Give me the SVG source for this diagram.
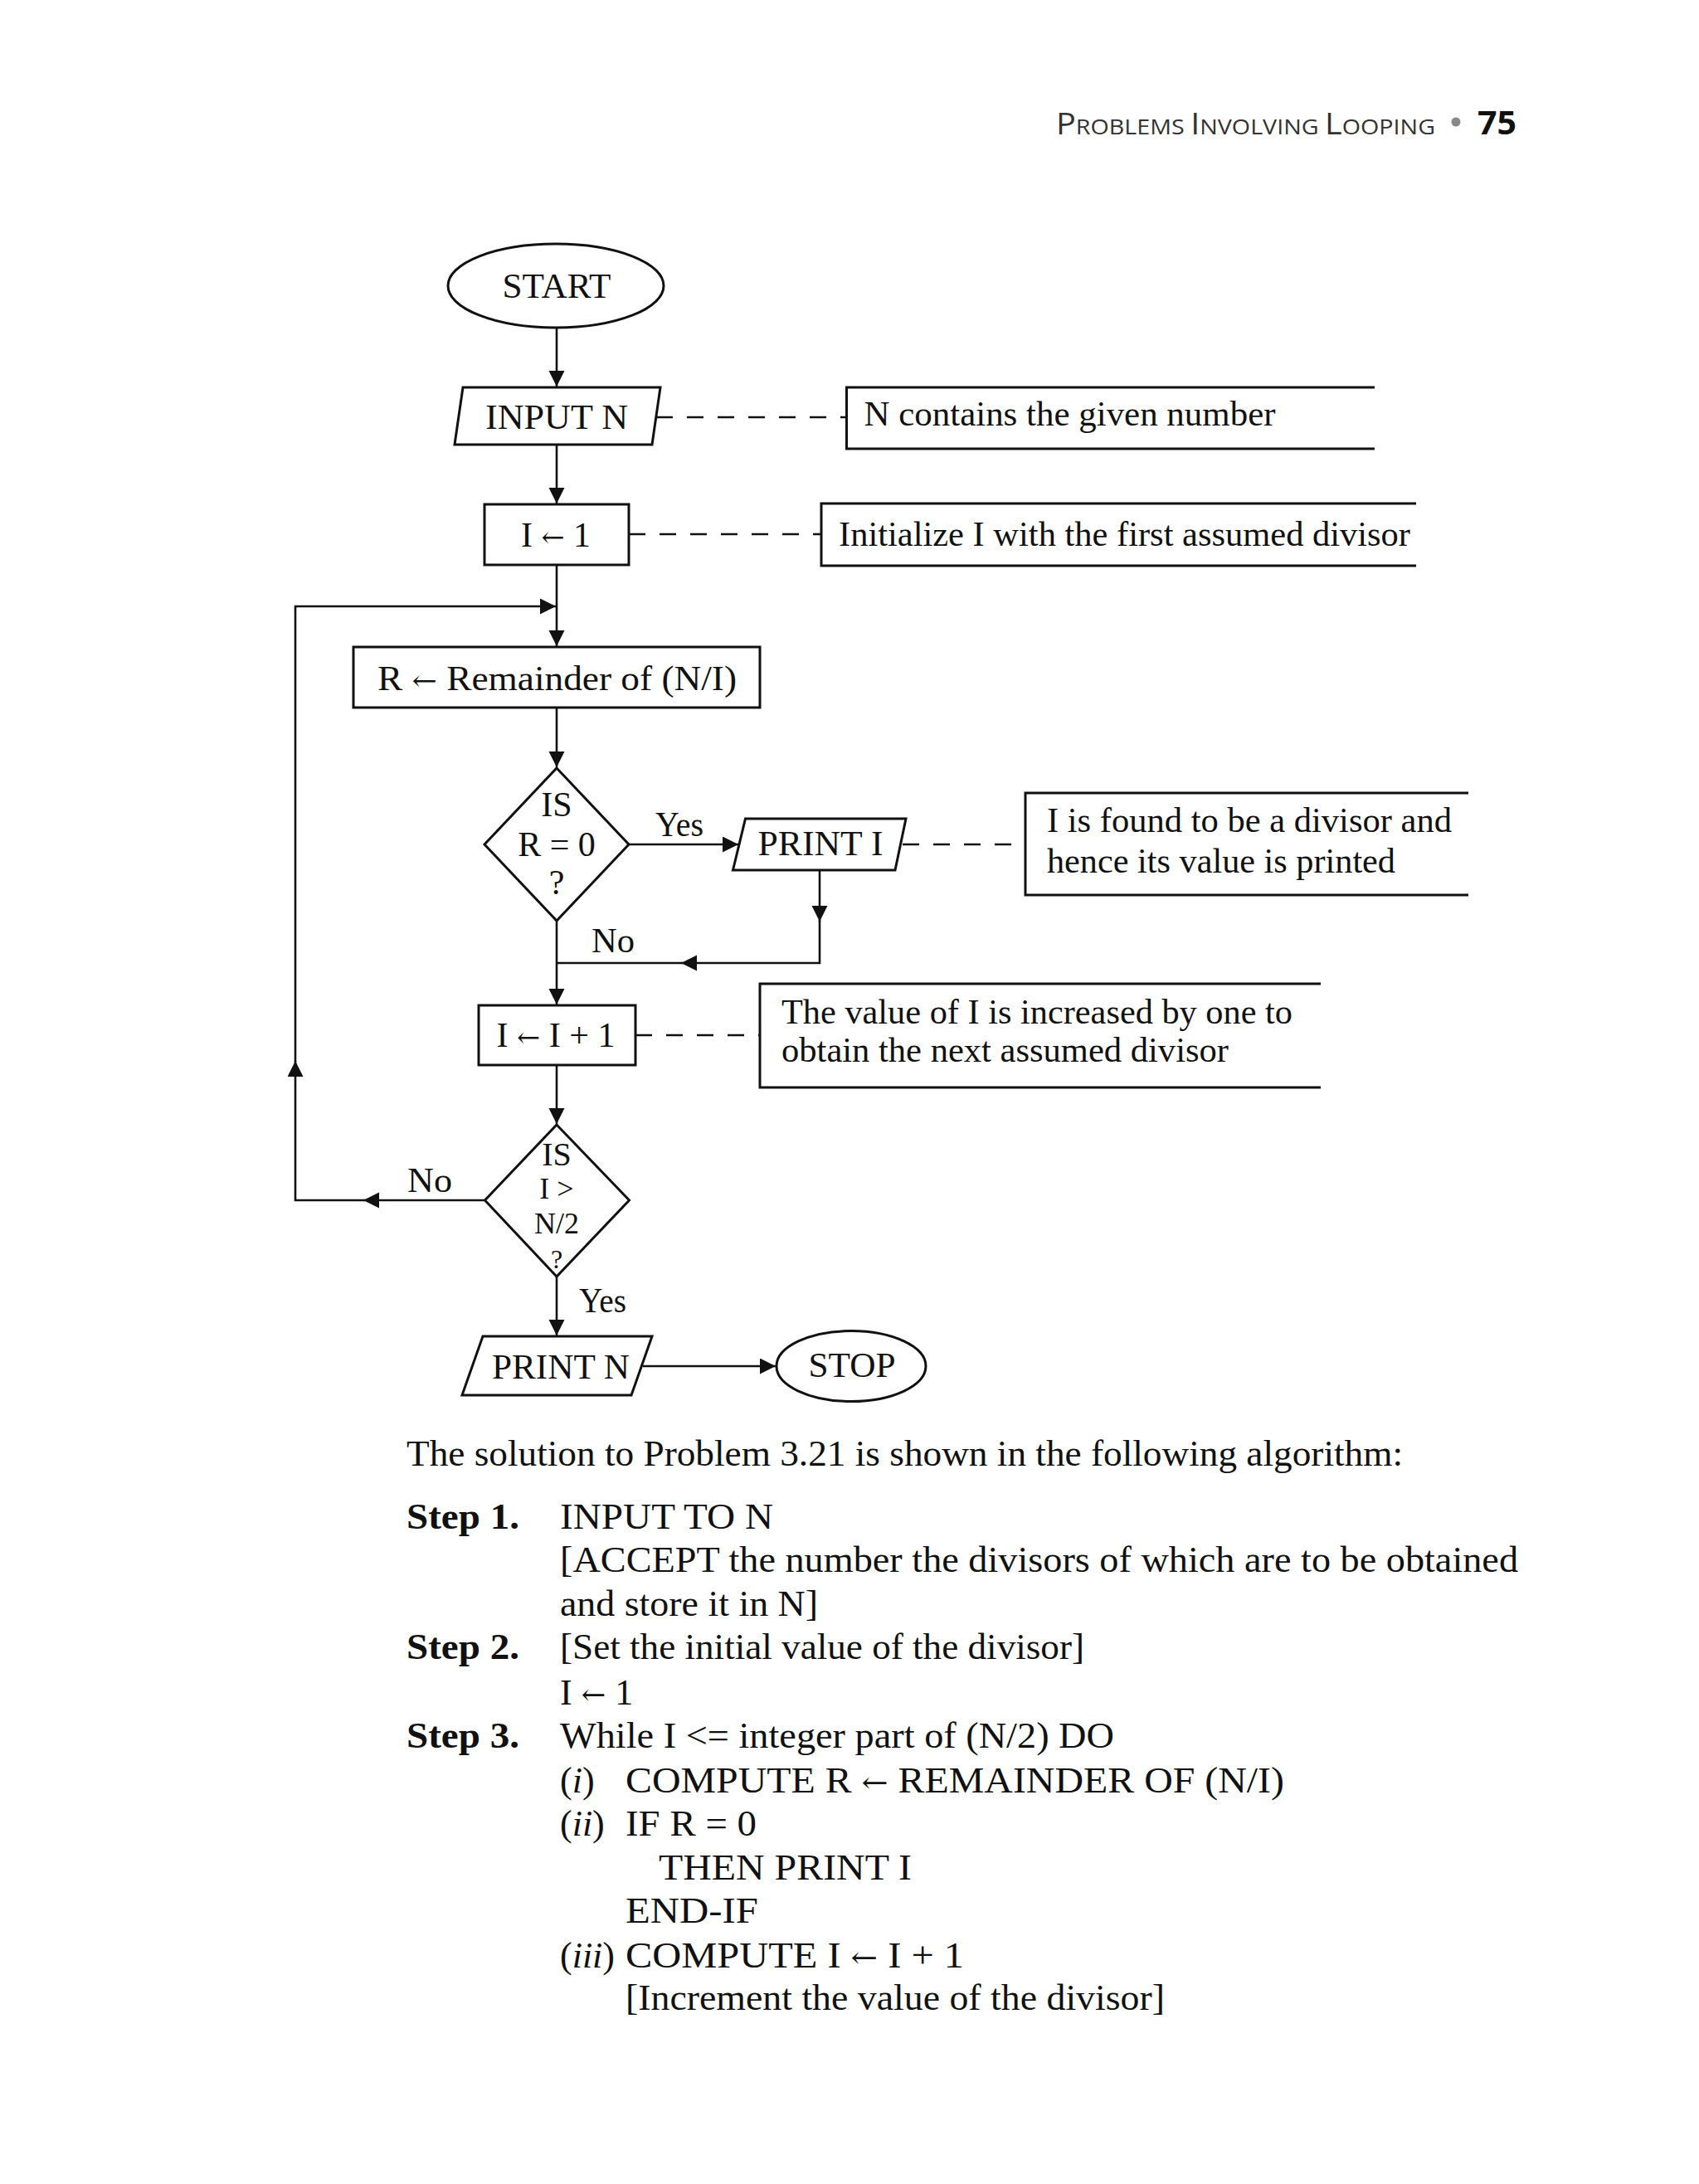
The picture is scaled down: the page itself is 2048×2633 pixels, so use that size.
<svg xmlns="http://www.w3.org/2000/svg" width="2048" height="2633" viewBox="0 0 2048 2633">
<style>
.shape{fill:#fff;stroke:#111;stroke-width:3}
.ln{fill:none;stroke:#111;stroke-width:2.6}
.dash{fill:none;stroke:#111;stroke-width:2.6;stroke-dasharray:20 17}
.note{fill:none;stroke:#111;stroke-width:3}
.t{font-family:"Liberation Serif","DejaVu Serif",serif;font-size:42px;fill:#111}
.tm{font-family:"Liberation Serif","DejaVu Serif",serif;font-size:42px;fill:#111;text-anchor:middle}
.b{font-family:"Liberation Serif","DejaVu Serif",serif;font-size:44px;fill:#111}
.bb{font-family:"Liberation Serif","DejaVu Serif",serif;font-size:44px;font-weight:bold;fill:#111}
.hd{font-family:"Open Sans","Liberation Sans",sans-serif;fill:#333}
.ar{font-family:"DejaVu Serif",serif;font-size:0.8em;font-weight:normal}
</style>
<defs>
<marker id="ah" markerUnits="userSpaceOnUse" markerWidth="20" markerHeight="20" refX="19" refY="9.5" orient="auto">
<path d="M0,0 L19,9.5 L0,19 Z" fill="#111"/>
</marker>
</defs>
<rect width="2048" height="2633" fill="#fff"/>

<g id="header">
<text class="hd" x="1273" y="162" textLength="457" lengthAdjust="spacingAndGlyphs"><tspan font-size="36">P</tspan><tspan font-size="26">ROBLEMS </tspan><tspan font-size="36">I</tspan><tspan font-size="26">NVOLVING </tspan><tspan font-size="36">L</tspan><tspan font-size="26">OOPING</tspan></text>
<circle cx="1755" cy="147" r="5.5" fill="#888"/>
<text x="1781" y="162" font-family="Open Sans, Liberation Sans, sans-serif" font-weight="bold" font-size="40" fill="#111" textLength="47" lengthAdjust="spacingAndGlyphs">75</text>
</g>

<g id="connectors">
<line class="ln" x1="671" y1="395" x2="671" y2="466" marker-end="url(#ah)"/>
<line class="ln" x1="671" y1="536" x2="671" y2="607" marker-end="url(#ah)"/>
<line class="ln" x1="671" y1="681" x2="671" y2="779" marker-end="url(#ah)"/>
<line class="ln" x1="671" y1="853" x2="671" y2="925" marker-end="url(#ah)"/>
<line class="ln" x1="758" y1="1018" x2="890" y2="1018" marker-end="url(#ah)"/>
<line class="ln" x1="988" y1="1049" x2="988" y2="1111" marker-end="url(#ah)"/>
<polyline class="ln" points="988,1110 988,1161 821,1161" marker-end="url(#ah)"/>
<line class="ln" x1="822" y1="1161" x2="671" y2="1161"/>
<line class="ln" x1="671" y1="1110" x2="671" y2="1211" marker-end="url(#ah)"/>
<line class="ln" x1="671" y1="1284" x2="671" y2="1355" marker-end="url(#ah)"/>
<line class="ln" x1="584" y1="1447" x2="438" y2="1447" marker-end="url(#ah)"/>
<polyline class="ln" points="439,1447 356,1447 356,1279" marker-end="url(#ah)"/>
<polyline class="ln" points="356,1280 356,731 670,731" marker-end="url(#ah)"/>
<line class="ln" x1="671" y1="1539" x2="671" y2="1610" marker-end="url(#ah)"/>
<line class="ln" x1="775" y1="1647" x2="935" y2="1647" marker-end="url(#ah)"/>
<line class="dash" x1="791" y1="503" x2="1020" y2="503"/>
<line class="dash" x1="758" y1="644" x2="990" y2="644"/>
<line class="dash" x1="1088" y1="1018" x2="1236" y2="1018"/>
<line class="dash" x1="766" y1="1248" x2="916" y2="1248"/>
<text class="t" x="790" y="1008" textLength="58" lengthAdjust="spacingAndGlyphs">Yes</text>
<text class="t" x="713" y="1148" textLength="52" lengthAdjust="spacingAndGlyphs">No</text>
<text class="t" x="491" y="1437" textLength="54" lengthAdjust="spacingAndGlyphs">No</text>
<text class="t" x="698" y="1582" textLength="57" lengthAdjust="spacingAndGlyphs">Yes</text>
</g>

<g id="start">
<ellipse class="shape" cx="670" cy="344.5" rx="130" ry="50.5"/>
<text class="tm" x="671" y="359" textLength="131" lengthAdjust="spacingAndGlyphs">START</text>
</g>
<g id="input_n">
<polygon class="shape" points="558,467 796,467 786,536 548,536"/>
<text class="tm" x="671" y="517" textLength="172" lengthAdjust="spacingAndGlyphs">INPUT N</text>
</g>
<g id="init_i">
<rect class="shape" x="584" y="608" width="174" height="73"/>
<text class="tm" x="670" y="659">I <tspan class="ar">←</tspan> 1</text>
</g>
<g id="remainder">
<rect class="shape" x="426" y="780" width="490" height="73"/>
<text class="tm" x="671.5" y="832" textLength="433" lengthAdjust="spacingAndGlyphs">R <tspan class="ar">←</tspan> Remainder of (N/I)</text>
</g>
<g id="is_r_zero">
<polygon class="shape" points="671,926 758,1018 671,1110 584,1018"/>
<text class="tm"><tspan x="671" y="984">IS</tspan><tspan x="671" y="1032">R = 0</tspan><tspan x="671" y="1078">?</tspan></text>
</g>
<g id="print_i">
<polygon class="shape" points="898.5,987 1092,987 1079,1049 883.5,1049"/>
<text class="tm" x="989" y="1031" textLength="151" lengthAdjust="spacingAndGlyphs">PRINT I</text>
</g>
<g id="incr_i">
<rect class="shape" x="577" y="1212" width="189" height="72"/>
<text class="tm" x="670" y="1262">I <tspan class="ar">←</tspan> I + 1</text>
</g>
<g id="is_i_gt">
<polygon class="shape" points="671,1356 758.5,1447 671,1539 584.5,1447"/>
<text class="tm" style="font-size:40px"><tspan x="671" y="1405">IS</tspan><tspan x="671" y="1445" style="font-size:36px">I &gt;</tspan><tspan x="671" y="1487" style="font-size:36px">N/2</tspan><tspan x="671" y="1529" style="font-size:32px">?</tspan></text>
</g>
<g id="print_n">
<polygon class="shape" points="582,1611 786,1611 761,1682 557,1682"/>
<text class="tm" x="676" y="1662" textLength="166" lengthAdjust="spacingAndGlyphs">PRINT N</text>
</g>
<g id="stop">
<ellipse class="shape" cx="1026" cy="1647" rx="90" ry="42.5"/>
<text class="tm" x="1027" y="1660" textLength="105" lengthAdjust="spacingAndGlyphs">STOP</text>
</g>

<g id="note_n">
<polyline class="note" points="1657,467 1020.5,467 1020.5,541 1657,541"/>
<text class="t" x="1041.5" y="513" textLength="496" lengthAdjust="spacingAndGlyphs">N contains the given number</text>
</g>
<g id="note_init">
<polyline class="note" points="1707,607 990,607 990,682 1707,682"/>
<text class="t" x="1011" y="658" textLength="689" lengthAdjust="spacingAndGlyphs">Initialize I with the first assumed divisor</text>
</g>
<g id="note_print">
<polyline class="note" points="1770,956 1236,956 1236,1079 1770,1079"/>
<text class="t" x="1262" y="1003" textLength="488" lengthAdjust="spacingAndGlyphs">I is found to be a divisor and</text>
<text class="t" x="1262" y="1052" textLength="420" lengthAdjust="spacingAndGlyphs">hence its value is printed</text>
</g>
<g id="note_incr">
<polyline class="note" points="1592,1186 916,1186 916,1311 1592,1311"/>
<text class="t" x="942" y="1234" textLength="616" lengthAdjust="spacingAndGlyphs">The value of I is increased by one to</text>
<text class="t" x="942" y="1280" textLength="539" lengthAdjust="spacingAndGlyphs">obtain the next assumed divisor</text>
</g>

<g id="algorithm">
<text class="b" x="490" y="1767" textLength="1201" lengthAdjust="spacingAndGlyphs">The solution to Problem 3.21 is shown in the following algorithm:</text>
<text class="bb" x="490" y="1843" textLength="136" lengthAdjust="spacingAndGlyphs">Step 1.</text>
<text class="b" x="675" y="1843" textLength="257" lengthAdjust="spacingAndGlyphs">INPUT TO N</text>
<text class="b" x="675" y="1895" textLength="1155" lengthAdjust="spacingAndGlyphs">[ACCEPT the number the divisors of which are to be obtained</text>
<text class="b" x="675" y="1948" textLength="311" lengthAdjust="spacingAndGlyphs">and store it in N]</text>
<text class="bb" x="490" y="2000" textLength="136" lengthAdjust="spacingAndGlyphs">Step 2.</text>
<text class="b" x="675" y="2000" textLength="632" lengthAdjust="spacingAndGlyphs">[Set the initial value of the divisor]</text>
<text class="b" x="675" y="2055">I <tspan class="ar">←</tspan> 1</text>
<text class="bb" x="490" y="2107" textLength="136" lengthAdjust="spacingAndGlyphs">Step 3.</text>
<text class="b" x="675" y="2107" textLength="668" lengthAdjust="spacingAndGlyphs">While I &lt;= integer part of (N/2) DO</text>
<text class="b" x="675" y="2161">(<tspan font-style="italic">i</tspan>)</text>
<text class="b" x="754" y="2161" textLength="794" lengthAdjust="spacingAndGlyphs">COMPUTE R <tspan class="ar">←</tspan> REMAINDER OF (N/I)</text>
<text class="b" x="675" y="2213">(<tspan font-style="italic">ii</tspan>)</text>
<text class="b" x="754" y="2213" textLength="158" lengthAdjust="spacingAndGlyphs">IF R = 0</text>
<text class="b" x="794" y="2266" textLength="305" lengthAdjust="spacingAndGlyphs">THEN PRINT I</text>
<text class="b" x="754" y="2318" textLength="160" lengthAdjust="spacingAndGlyphs">END-IF</text>
<text class="b" x="675" y="2372">(<tspan font-style="italic">iii</tspan>)</text>
<text class="b" x="754" y="2372" textLength="408" lengthAdjust="spacingAndGlyphs">COMPUTE I <tspan class="ar">←</tspan> I + 1</text>
<text class="b" x="754" y="2423" textLength="650" lengthAdjust="spacingAndGlyphs">[Increment the value of the divisor]</text>
</g>
</svg>
